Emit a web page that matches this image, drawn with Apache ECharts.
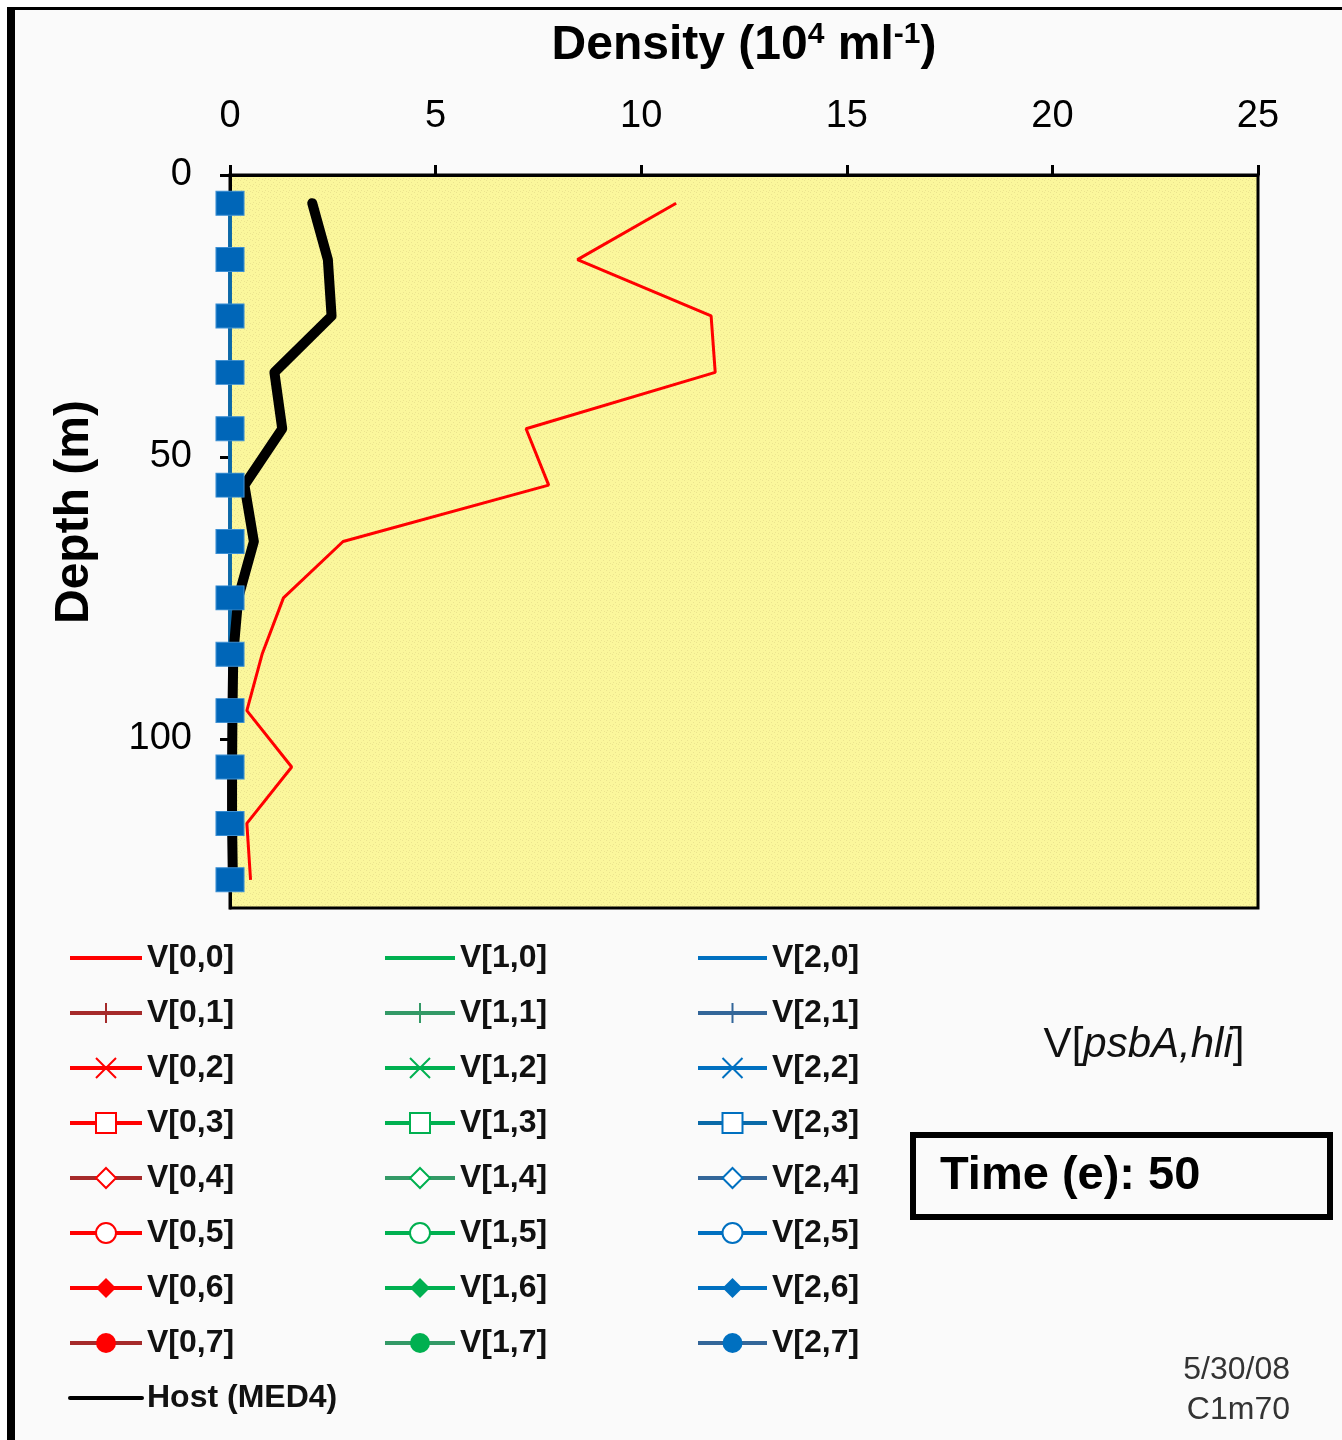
<!DOCTYPE html>
<html>
<head>
<meta charset="utf-8">
<title>Density profile</title>
<script src="https://cdn.jsdelivr.net/npm/echarts@6/dist/echarts.min.js"></script>
<style>
  html, body { margin: 0; padding: 0; background: #ffffff; }
  #chart { width: 1342px; height: 1440px; }
</style>
</head>
<body>
<div id="chart"></div>
<script>
// Sampling depths (m) and densities (10^4 per ml)
const depths = [5, 15, 25, 35, 45, 55, 65, 75, 85, 95, 105, 115, 125];
const densityV00 = [10.85, 8.45, 11.7, 11.8, 7.2, 7.75, 2.75, 1.3, 0.78, 0.41, 1.5, 0.41, 0.5];
const densityHost = [2.0, 2.38, 2.47, 1.08, 1.27, 0.35, 0.58, 0.2, 0.08, 0.06, 0.05, 0.05, 0.07];
const densityZero = [0, 0, 0, 0, 0, 0, 0, 0, 0, 0, 0, 0, 0];
const densityTicks = [0, 5, 10, 15, 20, 25];
const depthTicks = [0, 50, 100];

const groupNames = [
  ['V[0,0]', 'V[0,1]', 'V[0,2]', 'V[0,3]', 'V[0,4]', 'V[0,5]', 'V[0,6]', 'V[0,7]'],
  ['V[1,0]', 'V[1,1]', 'V[1,2]', 'V[1,3]', 'V[1,4]', 'V[1,5]', 'V[1,6]', 'V[1,7]'],
  ['V[2,0]', 'V[2,1]', 'V[2,2]', 'V[2,3]', 'V[2,4]', 'V[2,5]', 'V[2,6]', 'V[2,7]']
];
const hostName = 'Host (MED4)';

const FONT = '"Liberation Sans", Arial, sans-serif';

// line colours per group (darker shade on indices 1, 4, 7) and marker colours
const lineColors = [
  ['#ff0000', '#a52a2a', '#ff0000', '#ff0000', '#a52a2a', '#ff0000', '#ff0000', '#a52a2a'],
  ['#00b050', '#339966', '#00b050', '#00b050', '#339966', '#00b050', '#00b050', '#339966'],
  ['#0070c0', '#336699', '#0070c0', '#0070c0', '#336699', '#0070c0', '#0070c0', '#336699']
];
const markerColors = ['#ff0000', '#00b050', '#0070c0'];
const markerShapes = [
  'none',
  'path://M0,5L10,5M5,0L5,10',
  'path://M0,0L10,10M10,0L0,10',
  'emptyRect', 'emptyDiamond', 'emptyCircle', 'diamond', 'circle'
];

function profile(values) {
  return depths.map((d, i) => [values[i], d]);
}

// yellow stippled plot background
function stipple() {
  const c = document.createElement('canvas');
  c.width = 6; c.height = 6;
  const ctx = c.getContext('2d');
  ctx.fillStyle = '#fbf79c';
  ctx.fillRect(0, 0, 6, 6);
  ctx.fillStyle = '#ebe48f';
  [[0, 0], [3, 2], [1, 4], [4, 5]].forEach(([x, y]) => ctx.fillRect(x, y, 1, 1));
  return c;
}

const zeroSeries = [];
let squareSeries = null;
const legendData = [[], [], []];

for (let g = 0; g < 3; g++) {
  for (let k = 0; k < 8; k++) {
    const name = groupNames[g][k];
    const lc = lineColors[g][k];
    const mc = markerColors[g];
    const item = { name };
    if (k === 0) item.itemStyle = { opacity: 0 };

    const s = {
      name,
      type: 'line',
      data: profile(g === 0 && k === 0 ? densityV00 : densityZero),
      symbol: markerShapes[k],
      symbolSize: 10,
      showSymbol: false,
      lineStyle: { color: lc, width: 3 },
      itemStyle: { color: mc },
      emphasis: { disabled: true },
      animation: false
    };
    if (k === 1 || k === 2) {
      s.itemStyle = { color: lc, borderColor: lc, borderWidth: 2 };
    }
    if (g === 2 && k === 3) {
      // zero-density profile drawn with solid square markers on the axis
      s.symbol = 'rect';
      s.symbolSize = [28, 24];
      s.showSymbol = true;
      s.clip = false;
      s.itemStyle = { color: '#0066b8', borderColor: '#3b8fd4', borderWidth: 1 };
      s.lineStyle = { color: '#0a6aa8', width: 3 };
      item.itemStyle = { color: '#ffffff', borderColor: '#0070c0', borderWidth: 2 };
      squareSeries = s;
    } else if (g === 0 && k === 0) {
      s.lineStyle = { color: '#ff0000', width: 3 };
    } else {
      zeroSeries.push(s);
    }
    legendData[g].push(item);
  }
}
legendData[0].push({ name: hostName, itemStyle: { opacity: 0 } });

const v00Series = {
  name: 'V[0,0]',
  type: 'line',
  data: profile(densityV00),
  symbol: 'none',
  showSymbol: false,
  lineStyle: { color: '#ff0000', width: 3 },
  itemStyle: { color: '#ff0000' },
  emphasis: { disabled: true },
  animation: false
};

const hostSeries = {
  name: hostName,
  type: 'line',
  data: profile(densityHost),
  symbol: 'none',
  showSymbol: false,
  lineStyle: { color: '#000000', width: 10, cap: 'round', join: 'round' },
  itemStyle: { color: '#000000' },
  emphasis: { disabled: true },
  animation: false
};

const legendBase = {
  orient: 'vertical',
  top: 941,
  padding: 0,
  itemGap: 21,
  itemHeight: 25,
  selectedMode: false,
  lineStyle: { width: 4 },
  textStyle: { fontFamily: FONT, fontSize: 32, fontWeight: 'bold', color: '#111', lineHeight: 34 }
};

const option = {
  backgroundColor: '#ffffff',
  animation: false,
  grid: {
    left: 230, top: 175, right: 84, bottom: 532,
    show: true,
    backgroundColor: { image: stipple(), repeat: 'repeat' },
    borderColor: '#000000',
    borderWidth: 3
  },
  xAxis: {
    type: 'value',
    position: 'top',
    min: 0, max: 25, interval: 5,
    axisLine: { show: true, lineStyle: { color: '#000', width: 3 } },
    axisTick: { show: true, length: 10, customValues: densityTicks, lineStyle: { color: '#000', width: 3 } },
    axisLabel: { customValues: densityTicks, fontFamily: FONT, fontSize: 38, color: '#000', margin: 39 },
    splitLine: { show: false }
  },
  yAxis: {
    type: 'value',
    inverse: true,
    min: 0, max: 130, interval: 50,
    axisLine: { show: true, lineStyle: { color: '#000', width: 3 } },
    axisTick: { show: true, length: 10, customValues: depthTicks, lineStyle: { color: '#000', width: 3 } },
    axisLabel: { customValues: depthTicks, fontFamily: FONT, fontSize: 38, color: '#000', margin: 38, padding: [8, 0, 0, 0] },
    splitLine: { show: false }
  },
  legend: [
    Object.assign({}, legendBase, { left: 68, itemWidth: 72, data: legendData[0] }),
    Object.assign({}, legendBase, { left: 383, itemWidth: 70, data: legendData[1] }),
    Object.assign({}, legendBase, { left: 696, itemWidth: 69, data: legendData[2] })
  ],
  series: zeroSeries.concat([squareSeries, v00Series, hostSeries]),
  graphic: [
    { type: 'rect', z: -10, silent: true, shape: { x: 7, y: 7, width: 1335, height: 1433 }, style: { fill: '#fafafa' } },
    { type: 'rect', z: 10, silent: true, shape: { x: 7, y: 7, width: 8, height: 1433 }, style: { fill: '#000' } },
    { type: 'rect', z: 10, silent: true, shape: { x: 7, y: 7, width: 1335, height: 3 }, style: { fill: '#000' } },
    {
      type: 'text', x: 744, y: 46, silent: true,
      style: {
        text: '{b|Density (10}{s|4}{b| ml}{s|-1}{b|)}',
        align: 'center', verticalAlign: 'middle', textAlign: 'center', textVerticalAlign: 'middle',
        rich: {
          b: { fontFamily: FONT, fontSize: 48, fontWeight: 'bold', fill: '#000', color: '#000', lineHeight: 52 },
          s: { fontFamily: FONT, fontSize: 30, fontWeight: 'bold', fill: '#000', color: '#000', lineHeight: 34, verticalAlign: 'top' }
        }
      }
    },
    {
      type: 'text', x: 75, y: 512, rotation: Math.PI / 2, silent: true,
      style: {
        text: 'Depth (m)', fontFamily: FONT, fontSize: 48, fontWeight: 'bold', fill: '#000',
        align: 'center', verticalAlign: 'middle', textAlign: 'center', textVerticalAlign: 'middle'
      }
    },
    {
      type: 'text', x: 1144, y: 1045, silent: true,
      style: {
        text: '{n|V[}{i|psbA,hli}{n|]}',
        align: 'center', verticalAlign: 'middle', textAlign: 'center', textVerticalAlign: 'middle',
        rich: {
          n: { fontFamily: FONT, fontSize: 42, fill: '#111', color: '#111' },
          i: { fontFamily: FONT, fontSize: 42, fontStyle: 'italic', fill: '#111', color: '#111' }
        }
      }
    },
    {
      type: 'rect', silent: true,
      shape: { x: 913, y: 1135, width: 417, height: 82 },
      style: { fill: 'transparent', stroke: '#000', lineWidth: 6 }
    },
    {
      type: 'text', x: 940, y: 1176, silent: true,
      style: {
        text: 'Time (e): 50', fontFamily: FONT, fontSize: 47, fontWeight: 'bold', fill: '#000',
        align: 'left', verticalAlign: 'middle', textAlign: 'left', textVerticalAlign: 'middle'
      }
    },
    {
      type: 'text', x: 1290, y: 1370, silent: true,
      style: {
        text: '5/30/08', fontFamily: FONT, fontSize: 32, fill: '#333',
        align: 'right', verticalAlign: 'middle', textAlign: 'right', textVerticalAlign: 'middle'
      }
    },
    {
      type: 'text', x: 1290, y: 1410, silent: true,
      style: {
        text: 'C1m70', fontFamily: FONT, fontSize: 32, fill: '#333',
        align: 'right', verticalAlign: 'middle', textAlign: 'right', textVerticalAlign: 'middle'
      }
    }
  ]
};

const chart = echarts.init(document.getElementById('chart'), null, { renderer: 'canvas' });
chart.setOption(option);
</script>
</body>
</html>
